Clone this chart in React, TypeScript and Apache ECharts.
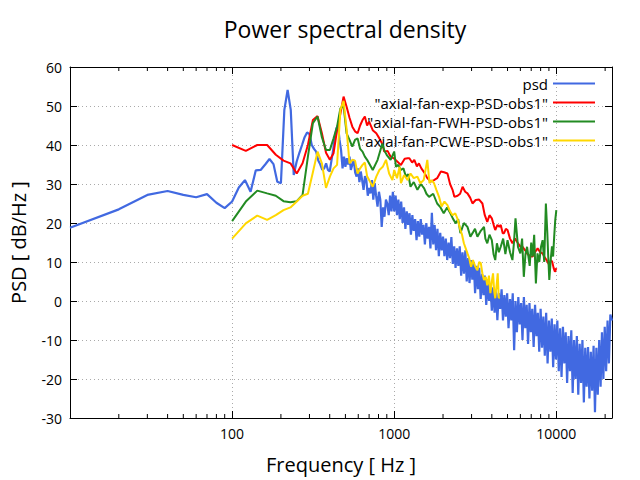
import React, { useEffect, useRef } from "react";
import * as echarts from "echarts";

const TITLE = "Power spectral density";
const X_NAME = "Frequency [ Hz ]";
const Y_NAME = "PSD [ dB/Hz ]";
const X_LABELS = [100, 1000, 10000];
const MINOR_TICKS = [20, 30, 40, 50, 60, 70, 80, 90, 200, 300, 400, 500, 600, 700, 800, 900, 2000, 3000, 4000, 5000, 6000, 7000, 8000, 9000, 20000];

const SERIES_NAMES = ["psd", '"axial-fan-exp-PSD-obs1"', '"axial-fan-FWH-PSD-obs1"', '"axial-fan-PCWE-PSD-obs1"'];
const COLORS = ["#4169e1", "#ff0000", "#228b22", "#ffd700"];

const psdFreq = [
  10, 20, 30, 40, 50, 60, 70, 80, 90, 100, 110, 120, 130, 140, 150, 160, 170, 180, 190, 200,
  210, 220, 230, 240, 250, 260, 270, 280, 290, 300, 310, 320, 330, 340, 350, 360, 370, 380, 390, 400,
  410, 420, 430, 440, 450, 460, 470, 480, 490, 500,
  510, 520, 530, 540, 552, 563, 574, 586, 598, 610, 622, 634, 647, 660, 673, 687, 700, 714, 729, 743,
  758, 773, 789, 805, 821, 837, 854, 871, 889, 906, 925, 943, 962, 981, 1000,
  1020, 1040, 1061, 1082, 1104, 1126, 1149, 1172, 1195, 1219, 1243, 1268, 1294, 1319, 1346, 1373, 1400,
  1428, 1457, 1486, 1516, 1546, 1577, 1608, 1641, 1673, 1707, 1741, 1776, 1811, 1848, 1885, 1922, 1961, 2000,
  2040, 2080, 2122, 2164, 2208, 2252, 2298, 2344, 2390, 2438, 2486, 2536, 2588, 2638, 2692, 2746, 2800,
  2856, 2914, 2972, 3032, 3092, 3154, 3216, 3282, 3346, 3414, 3482, 3552, 3622, 3696, 3770, 3844, 3922, 4000,
  4080, 4160, 4244, 4328, 4416, 4504, 4596, 4688, 4780, 4876, 4972, 5072, 5176, 5276, 5384, 5492, 5600,
  5712, 5828, 5944, 6064, 6184, 6308, 6432, 6564, 6692, 6828, 6964, 7104, 7244, 7392, 7540, 7688, 7844, 8000,
  8160, 8320, 8488, 8656, 8832, 9008, 9192, 9376, 9560, 9752, 9944, 10144, 10352, 10552, 10768, 10984, 11200,
  11424, 11656, 11888, 12128, 12368, 12616, 12864, 13128, 13384, 13656, 13928, 14208, 14488, 14784, 15080, 15376, 15688, 16000,
  16320, 16640, 16976, 17312, 17664, 18016, 18384, 18752, 19120, 19504, 19888, 20288, 20704, 21104, 21536, 22050,
];
const psdDb = [
  18.8, 23.5, 27.2, 28.2, 27.2, 26.6, 27.4, 25.2, 23.8, 25.5, 29.1, 31, 28, 33.5, 33.6, 35, 36.4, 35.1, 30.6, 30.2,
  49, 54.1, 49, 32.3, 35.7, 38, 40, 42, 43.2, 42.8, 40, 39, 38.3, 36, 35, 33.6, 34, 35.3, 33.6, 33.2,
  36, 38.7, 42, 44.3, 45, 41.3, 38.7, 34, 37, 34.4,
  36.6, 35, 37, 33.6, 35, 36.2, 33, 31.9, 34, 30.5, 33.2, 31, 28.5, 32, 31, 27, 29, 27.6, 31, 26,
  30.2, 27, 24.2, 28, 25.9, 19, 24, 21.6, 26, 25, 22, 27, 23, 28, 23,
  27, 22, 26, 21, 25.5, 20, 24, 18.5, 23, 19.5, 22.5, 17, 22, 18, 21, 15.6, 20.5,
  16.5, 21, 17, 19.5, 14.5, 20, 16, 19, 13.5, 22.6, 14.5, 19.5, 13, 18.5, 11.5, 17.5, 13, 16.5,
  11.5, 16, 10.5, 15, 11, 16.4, 9.5, 14, 8.5, 13.5, 9, 14, 6.5, 12.5, 7, 13, 5,
  11, 4.6, 10.5, 5.5, 10, 2, 9, 3, 8.5, 0.5, 7, 1.5, 6.5, -1, 5.5, 0, 4, -2.5,
  3.5, -3, 2.5, -4.9, 2, -2, 3, -5, 1.5, -4, 2, -7, 0.5, -5, 2, -12.6, 0,
  -8, 1, -6, -0.5, -10, 1, -7, -1, -11, -0.5, -8, -2, -11.8, -1, -9, -3, -13, -2,
  -12, -4, -14, -3, -16, -5, -13, -4.5, -17, -6, -15, -5, -18, -7, -19.5, -6.6, -16,
  -8, -21, -9, -18, -7.5, -23.6, -10, -20, -9, -24, -11, -21, -10, -26, -12, -22, -11.8, -25,
  -13, -23, -11.5, -28.5, -12, -24, -10, -22, -8, -20, -6.6, -18, -5, -16, -3.5, -5,
];

const expFreq = [
  100, 121.5, 143, 164.5, 186, 207.5, 229, 250.5, 272, 293.5, 315, 336.5, 358, 379.5, 401, 422.5, 444, 465.5, 487, 508.5,
  530, 551.5, 573, 594.5, 616, 637.5, 659, 680.5,
  700, 737, 775, 810, 850, 867, 910, 950, 1000, 1072, 1100, 1160, 1210, 1240, 1290, 1330, 1380, 1420, 1470, 1530,
  1600, 1680, 1760, 1840, 1940, 2030, 2130, 2210, 2290, 2350, 2460, 2550, 2640, 2740, 2830, 2940, 3040, 3180, 3340,
  3500, 3620, 3750, 3870, 4000, 4140, 4200, 4330, 4450, 4540, 4670, 4760, 4880, 5000, 5180, 5360, 5560, 5760, 5980,
  6190, 6420, 6650, 6900, 7140, 7400, 7670, 7950, 8230, 8420, 8700, 9050, 9250, 9430, 9620, 9800, 10000,
];
const expDb = [
  40, 38.5, 40, 40, 37.5, 36, 35.3, 32.7, 35.3, 40, 46.4, 47.4, 43, 38, 36.2, 37.9, 43.8, 48, 52.4, 49.8,
  47, 44.7, 43.5, 43, 45, 46.4, 47.3, 45,
  46, 43.8, 43, 41.7, 40, 38.3, 38.5, 37, 36.5, 35.3, 34.9, 36.5, 36.6, 36.6, 35.5, 36.2, 34.5, 35.3, 34, 33,
  31.5, 30.6, 31, 31.5, 33.2, 33, 32.7, 30, 28.5, 26.7, 27, 27.5, 29.3, 28, 27.6, 26.5, 25, 25.9, 26,
  25, 22, 20.3, 22, 21.2, 19, 18.2, 19.5, 19, 19.5, 17.4, 17.4, 18.5, 18.2, 16, 14.8, 16, 15, 14,
  13.9, 13, 12, 11.5, 11.4, 12.6, 13.5, 12.5, 12.2, 11.4, 10.5, 9.2, 10.5, 10.1, 8.5, 7.5, 8.4,
];

const fwhFreq = [
  100, 121.5, 143, 164.5, 186, 207.5, 229, 250.5, 272, 293.5, 315, 336.5, 358, 379.5, 401, 422.5, 444, 465.5, 487, 508.5,
  530, 551.5, 573, 594.5, 616, 637.5, 659, 680.5,
  737, 790, 845, 867, 900, 950, 1000, 1025, 1060, 1100, 1140, 1180, 1220, 1260, 1320, 1390, 1460, 1530, 1580, 1640,
  1740, 1840, 1930, 2020, 2120, 2220, 2310, 2400, 2480, 2560, 2690, 2830, 2950, 3040, 3150, 3260, 3420, 3580, 3650,
  3750, 3870, 4000, 4100, 4200, 4300, 4420, 4540, 4700, 4850, 5000, 5180, 5360, 5480, 5600, 5800, 6000, 6150, 6300,
  6450, 6600, 6850, 7000, 7140, 7300, 7480, 7650, 7850, 8050, 8230, 8420, 8620, 8800, 8900, 9050, 9250, 9400, 9550,
  9700, 9850, 10000,
];
const fwhDb = [
  20.5, 25.5, 28.3, 27.6, 27, 25.6, 25.3, 25.6, 27.2, 37, 45.6, 47.3, 42, 38.7, 38.7, 41.7, 44.7, 49.4, 50, 43,
  41.3, 39.6, 41.3, 41.7, 39, 38.3, 37, 36.2,
  33.6, 36.2, 40.4, 38.7, 37.4, 36.2, 38.3, 34.4, 34.9, 33.6, 34, 31.9, 32.5, 29.3, 30.5, 28.5, 30, 28.9, 27.5, 26.7,
  27.5, 25, 24, 22.5, 24, 22.5, 21, 19.9, 21, 17.4, 20, 19, 16.5, 17.4, 18.5, 16.5, 18, 19, 16,
  14.8, 17, 15.6, 12, 10.5, 14.8, 12.5, 13.9, 16, 12, 15.6, 12.5, 10.5, 15, 21.2, 13.9, 12.2, 16, 6.2,
  12, 13.9, 9, 15, 11.4, 17, 4.5, 12.2, 10, 14, 15.6, 10, 25, 17.4, 12, 5.4, 11, 14, 11.4,
  16.5, 20.8, 23.3,
];

const pcweFreq = [
  100, 121.5, 143, 164.5, 186, 207.5, 229, 250.5, 272, 293.5, 315, 336.5, 358, 379.5, 401, 422.5, 444, 465.5, 487, 508.5,
  530, 551.5, 573, 594.5, 616, 637.5, 659, 680.5,
  737, 775, 810, 850, 890, 930, 975, 1000, 1040, 1080, 1100, 1150, 1210, 1260, 1320, 1390, 1450, 1520, 1600, 1650,
  1700, 1760, 1820, 1890, 1960, 2040, 2130, 2210, 2290, 2380, 2460, 2560, 2620, 2690, 2760, 2830, 2900, 2980, 3060,
  3150, 3260, 3340, 3420, 3500, 3580, 3670, 3750, 3840, 3920, 4000, 4070, 4140, 4200, 4280, 4350, 4390, 4420, 4450,
];
const pcweDb = [
  16, 19.9, 21.9, 20.8, 22, 23.3, 24, 25.5, 27, 27.5, 33, 38.3, 35.3, 29, 31.9, 34, 34.9, 49, 51.3, 44,
  35.3, 36.2, 36, 32.7, 34, 34.9, 35.5, 32,
  29.3, 31.9, 33.6, 34.4, 36.2, 32.7, 31, 33.6, 31.5, 34.4, 30.2, 32.3, 31, 32.7, 31.5, 31.9, 30.2, 31, 36.2, 30.2,
  31, 30.2, 28.5, 26.7, 24.2, 25.5, 24.6, 23, 22, 22.5, 21, 18.2, 17, 14.8, 13.5, 12.2, 11, 8.8, 10.5,
  9, 7.9, 10, 9.7, 7, 5.4, 6.2, 4, 6.5, 2, 5, 7.1, 2.5, 0.7, 4, 7.1, 3, 0.7, 1,
];

const FONT = "'Open Sans', 'DejaVu Sans', sans-serif";

function pairs(f: number[], v: number[]) {
  return f.map((x, i) => [x, v[i]]);
}

export default function App() {
  const ref = useRef<HTMLDivElement>(null);
  useEffect(() => {
    if (!ref.current) return;
    const chart = echarts.init(ref.current, undefined, { renderer: "svg" });
    const lineData = [pairs(psdFreq, psdDb), pairs(expFreq, expDb), pairs(fwhFreq, fwhDb), pairs(pcweFreq, pcweDb)];
    const gridLine = { show: true, lineStyle: { color: "#aaaaaa", type: [1, 3], width: 1 } };
    const option: any = {
      animation: false,
      backgroundColor: "#ffffff",
      textStyle: { fontFamily: FONT },
      title: {
        text: TITLE,
        left: 340,
        top: 12,
        textAlign: "center",
        textStyle: { fontFamily: FONT, fontSize: 23, fontWeight: "normal", color: "#000" },
      },
      legend: {
        data: SERIES_NAMES,
        orient: "vertical",
        align: "right",
        right: 45,
        top: 76,
        icon: "rect",
        itemWidth: 42,
        itemHeight: 2,
        itemGap: 4,
        padding: 0,
        textStyle: { fontFamily: FONT, fontSize: 15, color: "#000", lineHeight: 15 },
      },
      grid: { left: 68, right: 28, top: 67, bottom: 62 },
      xAxis: [
        {
          type: "log",
          logBase: 10,
          min: 10,
          max: 22050,
          name: X_NAME,
          nameLocation: "middle",
          nameGap: 36,
          nameTextStyle: { fontFamily: FONT, fontSize: 20, color: "#000" },
          axisLine: { show: true, onZero: false, lineStyle: { color: "#000", width: 1 } },
          axisTick: { show: true, inside: true, length: 7, lineStyle: { color: "#000" } },
          axisLabel: {
            show: true,
            margin: 8,
            fontFamily: FONT,
            fontSize: 14,
            color: "#000",
            formatter: (v: number) => {
              const r = Math.round(v);
              return X_LABELS.indexOf(r) >= 0 ? String(r) : "";
            },
          },
          splitLine: gridLine,
        },
        {
          type: "log",
          logBase: 10,
          min: 10,
          max: 22050,
          position: "top",
          axisLine: { show: true, onZero: false, lineStyle: { color: "#000", width: 1 } },
          axisTick: { show: true, inside: true, length: 7, lineStyle: { color: "#000" } },
          axisLabel: { show: false },
          splitLine: { show: false },
        },
      ],
      yAxis: [
        {
          type: "value",
          min: -30,
          max: 60,
          interval: 10,
          name: Y_NAME,
          nameLocation: "middle",
          nameGap: 42,
          nameTextStyle: { fontFamily: FONT, fontSize: 20, color: "#000" },
          axisLine: { show: true, onZero: false, lineStyle: { color: "#000", width: 1 } },
          axisTick: { show: true, inside: true, length: 7, lineStyle: { color: "#000" } },
          axisLabel: { margin: 8, fontFamily: FONT, fontSize: 14, color: "#000" },
          splitLine: gridLine,
        },
        {
          type: "value",
          min: -30,
          max: 60,
          interval: 10,
          position: "right",
          axisLine: { show: true, onZero: false, lineStyle: { color: "#000", width: 1 } },
          axisTick: { show: true, inside: true, length: 7, lineStyle: { color: "#000" } },
          axisLabel: { show: false },
          splitLine: { show: false },
        },
      ],
      series: [
        ...SERIES_NAMES.map((name, i) => ({
          name,
          type: "line",
          data: lineData[i],
          showSymbol: false,
          symbol: "none",
          color: COLORS[i],
          lineStyle: { color: COLORS[i], width: i === 0 ? 2.2 : 2 },
          silent: true,
          z: 2 + i,
        })),
        {
          name: "minorTicks",
          type: "custom",
          silent: true,
          z: 10,
          data: MINOR_TICKS.map((v) => [v, 0]),
          encode: { x: 0, y: 1 },
          renderItem: (params: any, api: any) => {
            const x = api.value(0);
            const pb = api.coord([x, -30]);
            const pt = api.coord([x, 60]);
            return {
              type: "group",
              children: [
                { type: "line", shape: { x1: pb[0], y1: pb[1], x2: pb[0], y2: pb[1] - 4 }, style: { stroke: "#000", lineWidth: 1 } },
                { type: "line", shape: { x1: pt[0], y1: pt[1], x2: pt[0], y2: pt[1] + 4 }, style: { stroke: "#000", lineWidth: 1 } },
              ],
            };
          },
        },
      ],
    };
    chart.setOption(option);
    return () => chart.dispose();
  }, []);
  return <div ref={ref} style={{ position: "absolute", left: 0, top: 0, width: 640, height: 480 }} />;
}
